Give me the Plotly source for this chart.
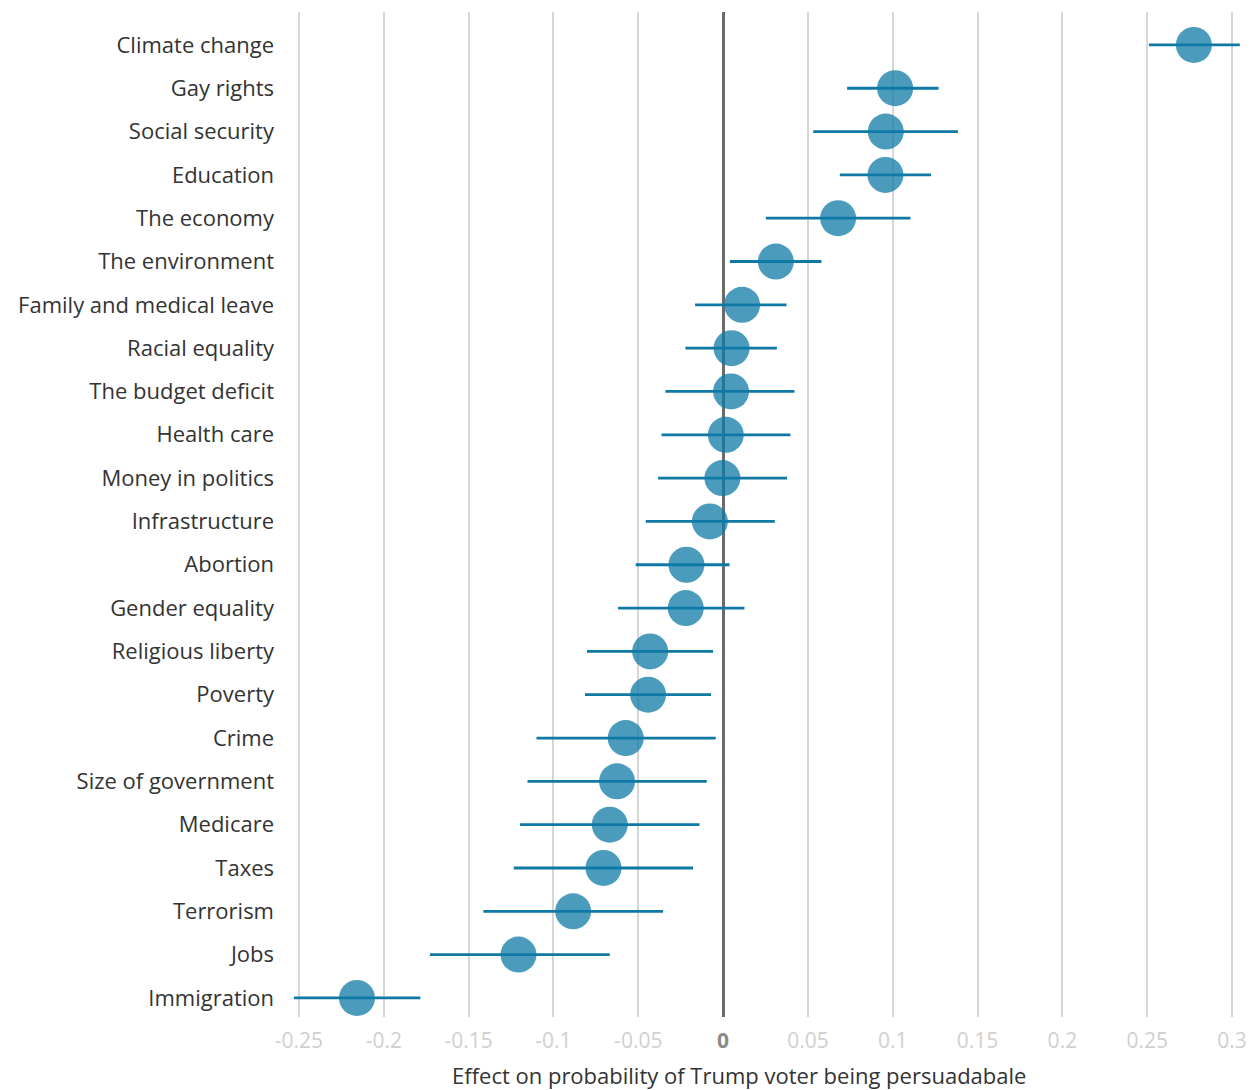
import plotly.graph_objects as go

# Issues, top to bottom
issues = [
    "Climate change", "Gay rights", "Social security", "Education",
    "The economy", "The environment", "Family and medical leave",
    "Racial equality", "The budget deficit", "Health care",
    "Money in politics", "Infrastructure", "Abortion", "Gender equality",
    "Religious liberty", "Poverty", "Crime", "Size of government",
    "Medicare", "Taxes", "Terrorism", "Jobs", "Immigration",
]

# Point estimates
effect = [
    0.2775, 0.1014, 0.0959, 0.0957, 0.0678, 0.0311, 0.0112,
    0.0050, 0.0047, 0.0016, -0.0004, -0.0078, -0.0216, -0.0220,
    -0.0430, -0.0442, -0.0574, -0.0625, -0.0668, -0.0705, -0.0884,
    -0.1206, -0.2158,
]

# Confidence interval bounds
ci_low = [
    0.2510, 0.0731, 0.0531, 0.0688, 0.0252, 0.0040, -0.0165,
    -0.0222, -0.0340, -0.0363, -0.0383, -0.0456, -0.0515, -0.0619,
    -0.0802, -0.0814, -0.1100, -0.1153, -0.1197, -0.1234, -0.1413,
    -0.1728, -0.2530,
]
ci_high = [
    0.3046, 0.1270, 0.1384, 0.1226, 0.1105, 0.0580, 0.0374,
    0.0317, 0.0421, 0.0397, 0.0377, 0.0305, 0.0038, 0.0126,
    -0.0059, -0.0071, -0.0043, -0.0096, -0.0139, -0.0177, -0.0354,
    -0.0668, -0.1784,
]

tick_vals = [-0.25, -0.2, -0.15, -0.1, -0.05, 0, 0.05, 0.1, 0.15, 0.2, 0.25, 0.3]
tick_labels = ["-0.25", "-0.2", "-0.15", "-0.1", "-0.05", "0",
               "0.05", "0.1", "0.15", "0.2", "0.25", "0.3"]

x_title = "Effect on probability of Trump voter being persuadabale"

BLUE = "#0f79a6"
FONT = "Open Sans"

tick_text = [
    "<b><span style='color:#8a8a8a'>%s</span></b>" % t if t == "0" else t
    for t in tick_labels
]

fig = go.Figure()
fig.add_trace(go.Scatter(
    x=effect,
    y=issues,
    mode="markers",
    marker=dict(size=36, color=BLUE, opacity=0.75, line=dict(width=0)),
    error_x=dict(
        type="data",
        symmetric=False,
        array=[h - e for h, e in zip(ci_high, effect)],
        arrayminus=[e - l for e, l in zip(effect, ci_low)],
        color=BLUE,
        thickness=2.8,
        width=0,
    ),
    hoverinfo="skip",
    showlegend=False,
    cliponaxis=False,
))

# Axis title placed as an annotation below the tick labels
fig.add_annotation(
    text=x_title,
    xref="paper", yref="paper",
    x=0.4726, y=0,
    xanchor="center", yanchor="middle",
    yshift=-58,
    showarrow=False,
    font=dict(family=FONT, size=22, color="#333333"),
)

fig.update_layout(
    width=1253,
    height=1090,
    margin=dict(l=282, r=4, t=12, b=73),
    paper_bgcolor="white",
    plot_bgcolor="white",
    font=dict(family=FONT, size=22, color="#333333"),
    xaxis=dict(
        range=[-0.26, 0.31],
        tickvals=tick_vals,
        ticktext=tick_text,
        tickfont=dict(size=21, color="#cfcfcf"),
        ticklabelstandoff=9,
        showgrid=True,
        gridcolor="#d6d6d6",
        gridwidth=1.5,
        zeroline=True,
        zerolinecolor="#6b6b6b",
        zerolinewidth=2.5,
        showline=False,
        ticks="",
    ),
    yaxis=dict(
        categoryorder="array",
        categoryarray=issues,
        range=[22.44, -0.76],
        showgrid=False,
        zeroline=False,
        showline=False,
        ticks="",
        tickfont=dict(size=22, color="#333333"),
        ticklabelstandoff=7,
    ),
)

fig.write_html("out.html")
